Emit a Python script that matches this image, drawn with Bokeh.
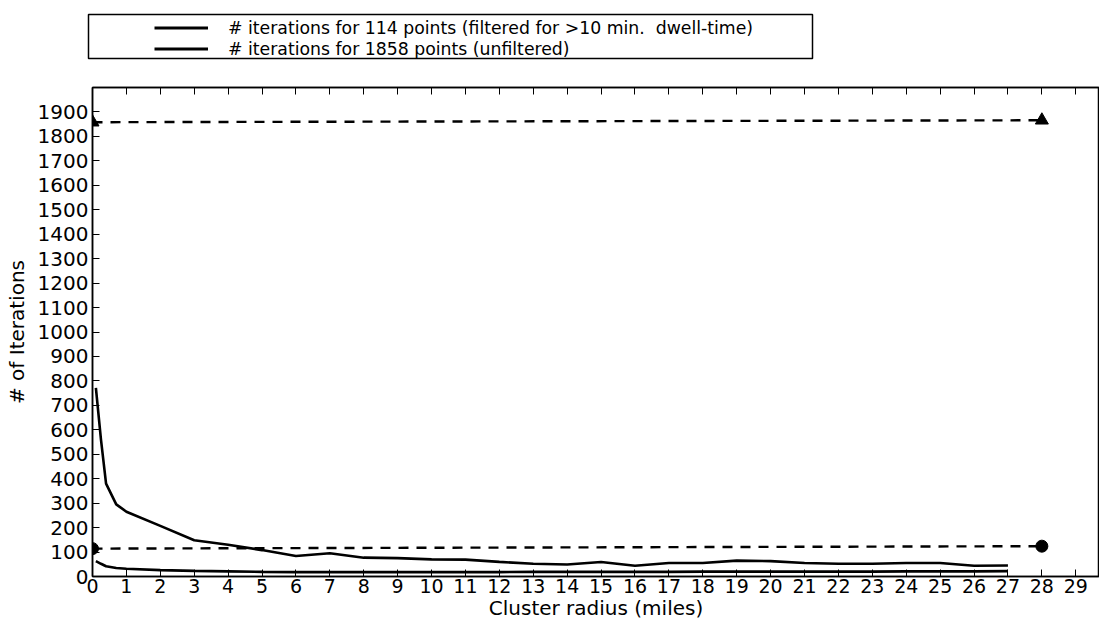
from bokeh.plotting import figure
from bokeh.layouts import column
from bokeh.models import Range1d, FixedTicker, LinearAxis, Legend, LegendItem
from bokeh.embed import file_html
from bokeh.resources import INLINE

# ---- data ----
radius = [0.1, 0.25, 0.4, 0.7, 1, 2, 3, 4, 5, 6, 7, 8, 9, 10, 11, 12, 13, 14,
          15, 16, 17, 18, 19, 20, 21, 22, 23, 24, 25, 26, 27]
iters_unfiltered = [771, 560, 380, 295, 265, 207, 148, 130, 108, 84, 95, 77, 75,
                    70, 69, 60, 52, 49, 59, 44, 55, 55, 65, 63, 55, 52, 52, 55,
                    55, 44, 45]
iters_filtered = [63, 52, 42, 35, 32, 26, 23, 21, 19, 18, 18, 18, 18, 18, 18,
                  18, 19, 19, 19, 19, 19, 20, 20, 20, 20, 20, 20, 21, 21, 21, 22]

ref_x = [0, 28]
ref_unfiltered = [1858, 1866]   # total points (unfiltered)
ref_filtered = [114, 124]       # total points (filtered)

x_ticks = list(range(0, 30))
y_ticks = list(range(0, 2000, 100))

label_filtered = "# iterations for 114 points (filtered for >10 min.  dwell-time)"
label_unfiltered = "# iterations for 1858 points (unfiltered)"

FONT = "DejaVu Sans"
W = 1099
TOP_H = 70
MAIN_H = 552

# ---------------- legend strip (top) ----------------
lg = figure(width=W, height=TOP_H, output_backend="svg", toolbar_location=None,
            x_range=Range1d(0, W), y_range=Range1d(TOP_H, 0),
            x_axis_location=None, y_axis_location=None,
            min_border=0, min_border_left=0, min_border_right=0,
            min_border_top=0, min_border_bottom=0, frame_align=False)
lg.grid.visible = False
lg.outline_line_color = None
lg.background_fill_color = "white"
lg.border_fill_color = "white"

# off-screen stand-ins that carry the legend line style
d_fil = lg.line([-200, -100], [0, 0], line_color="black", line_width=2.8)
d_unf = lg.line([-200, -100], [0, 0], line_color="black", line_width=2.8)
lg.quad(left=[88], right=[812], top=[14], bottom=[58], fill_color=None,
        line_color="black", line_width=1.5)

legend = Legend(items=[LegendItem(label=label_filtered, renderers=[d_fil]),
                       LegendItem(label=label_unfiltered, renderers=[d_unf])],
                location=(154, 11), padding=0, spacing=0, margin=0,
                glyph_width=54, glyph_height=21, label_height=21,
                label_standoff=20, label_text_font=FONT,
                label_text_font_size="17.3px", label_text_color="black",
                border_line_color=None, background_fill_alpha=0)
lg.add_layout(legend, "center")

# ---------------- main chart ----------------
p = figure(width=W, height=MAIN_H, output_backend="svg", toolbar_location=None,
           x_range=Range1d(0, 29.7), y_range=Range1d(0, 2000),
           min_border_left=92, min_border_right=0, min_border_top=17,
           min_border_bottom=46, x_axis_label="Cluster radius (miles)",
           y_axis_label="# of Iterations", frame_align=False)
p.grid.visible = False
p.outline_line_color = "black"
p.outline_line_width = 1.5
p.background_fill_color = "white"
p.border_fill_color = "white"

for ax in (p.xaxis[0], p.yaxis[0]):
    ax.major_tick_in = 7
    ax.major_tick_out = 0
    ax.minor_tick_line_color = None
    ax.axis_line_width = 1.5
    ax.axis_line_color = "black"
    ax.major_tick_line_color = "black"
    ax.major_label_text_font = FONT
    ax.major_label_text_font_size = "19px"
    ax.major_label_text_color = "black"
    ax.axis_label_text_font = FONT
    ax.axis_label_text_font_size = "20px"
    ax.axis_label_text_font_style = "normal"
    ax.axis_label_text_color = "black"

p.yaxis[0].major_label_text_font_size = "20px"
p.xaxis[0].ticker = FixedTicker(ticks=x_ticks)
p.yaxis[0].ticker = FixedTicker(ticks=y_ticks)
p.xaxis[0].major_label_standoff = 2
p.xaxis[0].axis_label_standoff = 0
p.yaxis[0].major_label_standoff = 4
p.yaxis[0].axis_label_standoff = 6

# ticks only along the top edge (matplotlib-style box ticks)
top_axis = LinearAxis(ticker=FixedTicker(ticks=x_ticks), major_tick_in=7,
                      major_tick_out=0, minor_tick_line_color=None,
                      major_label_overrides={t: "" for t in x_ticks},
                      major_label_text_font_size="10px", axis_line_width=1.5,
                      major_label_standoff=0)
p.add_layout(top_axis, "above")

# curves
r_unf = p.line(radius, iters_unfiltered, line_color="black", line_width=2.6)
r_fil = p.line(radius, iters_filtered, line_color="black", line_width=2.6)

# reference dashed lines with end markers
p.line(ref_x, ref_unfiltered, line_color="black", line_width=2.4,
       line_dash="10 8")
p.scatter(ref_x, ref_unfiltered, marker="triangle", size=13, color="black")
p.line(ref_x, ref_filtered, line_color="black", line_width=2.4,
       line_dash="10 8")
p.scatter(ref_x, ref_filtered, marker="circle", size=12, color="black")

layout = column(lg, p, spacing=0)
open("out.html", "w").write(file_html(layout, INLINE))
